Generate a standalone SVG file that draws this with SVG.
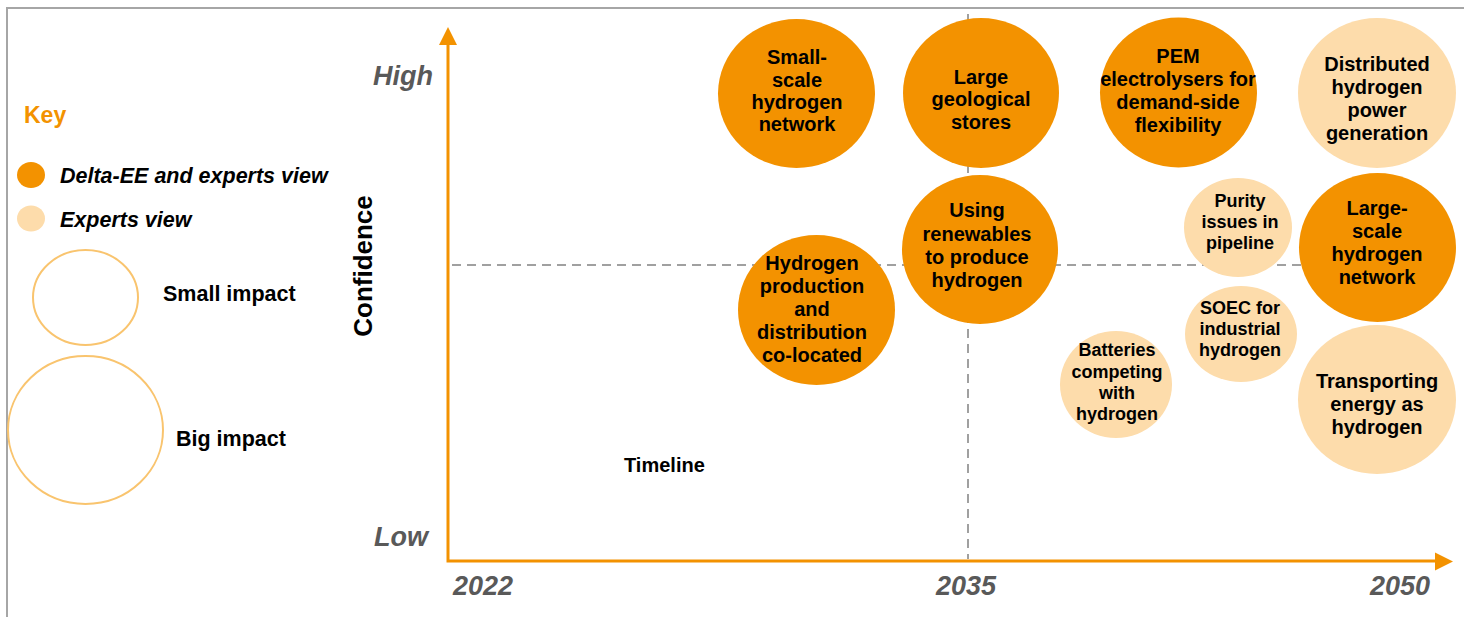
<svg xmlns="http://www.w3.org/2000/svg" width="1464" height="617" viewBox="0 0 1464 617">
  <defs>
    <style>
      .frame { fill: none; stroke: #a6a6a6; stroke-width: 2; }
      .axis { stroke: #f39200; stroke-width: 3; fill: none; }
      .arrowhead { fill: #f39200; }
      .grid { stroke: #a0a0a0; stroke-width: 2; stroke-dasharray: 9 6; fill: none; }
      .dark { fill: #f39200; }
      .light { fill: #fddcab; }
      .outline { fill: none; stroke: #f9c46e; stroke-width: 2; }
      .lbl { font-family: "Liberation Sans", Arial, sans-serif; font-weight: bold; fill: #000; text-anchor: middle; }
      .big { font-size: 20px; }
      .small { font-size: 18px; }
      .key { font-family: "Liberation Sans", Arial, sans-serif; font-weight: bold; font-size: 21.5px; fill: #000; }
      .ital { font-style: italic; }
      .tick { font-family: "Liberation Sans", Arial, sans-serif; font-weight: bold; font-style: italic; font-size: 27px; fill: #595959; }
    </style>
  </defs>

  <rect width="1464" height="617" fill="#ffffff"/>
  <path class="frame" d="M7,617 V8 H1464"/>

  <!-- legend -->
  <g id="legend">
    <text x="24" y="123" class="key" style="fill:#f39200;font-size:23px">Key</text>
    <ellipse class="dark" cx="31" cy="175" rx="14" ry="13"/>
    <text x="60" y="183" class="key ital">Delta-EE and experts view</text>
    <ellipse class="light" cx="31" cy="218.5" rx="14" ry="13"/>
    <text x="60" y="227" class="key ital">Experts view</text>
    <ellipse class="outline" cx="85.5" cy="297.5" rx="52.5" ry="47.5"/>
    <text x="163" y="301" class="key">Small impact</text>
    <ellipse class="outline" cx="85.5" cy="430" rx="77.5" ry="74"/>
    <text x="176" y="446" class="key">Big impact</text>
  </g>

  <!-- quadrant guides and axes -->
  <g id="connectors">
    <line class="grid" x1="452" y1="265" x2="1440" y2="265"/>
    <line class="grid" x1="968" y1="14" x2="968" y2="559"/>
    <path class="axis" d="M448,44 V561 H1437"/>
    <polygon class="arrowhead" points="448,27 439,45 457,45"/>
    <polygon class="arrowhead" points="1453,561.5 1435,552.5 1435,570.5"/>
  </g>

  <g id="axis-labels">
    <text x="373" y="85" class="tick">High</text>
    <text x="374" y="546" class="tick">Low</text>
    <text x="453" y="595" class="tick">2022</text>
    <text x="936" y="595" class="tick">2035</text>
    <text x="1370" y="595" class="tick">2050</text>
    <text transform="translate(372,266) rotate(-90)" class="lbl" style="font-size:26px">Confidence</text>
    <text x="624" y="472" class="key" style="font-size:20px">Timeline</text>
  </g>

  <!-- bubbles -->
  <g id="small-scale-network">
    <ellipse class="dark" cx="796.5" cy="93.5" rx="78.5" ry="74.5"/>
    <text class="lbl big"><tspan x="797" y="64">Small-</tspan><tspan x="797" y="87">scale</tspan><tspan x="797" y="109">hydrogen</tspan><tspan x="797" y="131">network</tspan></text>
  </g>
  <g id="geological-stores">
    <ellipse class="dark" cx="981" cy="93" rx="78" ry="75"/>
    <text class="lbl big"><tspan x="981" y="84">Large</tspan><tspan x="981" y="106">geological</tspan><tspan x="981" y="129">stores</tspan></text>
  </g>
  <g id="renewables">
    <ellipse class="dark" cx="980" cy="249.5" rx="78" ry="74.5"/>
    <text class="lbl big"><tspan x="977" y="217">Using</tspan><tspan x="977" y="241">renewables</tspan><tspan x="977" y="264">to produce</tspan><tspan x="977" y="287">hydrogen</tspan></text>
  </g>
  <g id="co-located">
    <ellipse class="dark" cx="816.5" cy="310" rx="78.5" ry="75"/>
    <text class="lbl big"><tspan x="812" y="270">Hydrogen</tspan><tspan x="812" y="293">production</tspan><tspan x="812" y="316">and</tspan><tspan x="812" y="339">distribution</tspan><tspan x="812" y="362">co-located</tspan></text>
  </g>
  <g id="pem-electrolysers">
    <ellipse class="dark" cx="1178.5" cy="92.5" rx="78.5" ry="75"/>
    <text class="lbl big"><tspan x="1178" y="63">PEM</tspan><tspan x="1178" y="86">electrolysers for</tspan><tspan x="1178" y="109">demand-side</tspan><tspan x="1178" y="132">flexibility</tspan></text>
  </g>
  <g id="distributed-power">
    <ellipse class="light" cx="1377" cy="93" rx="79" ry="75"/>
    <text class="lbl big"><tspan x="1377" y="71">Distributed</tspan><tspan x="1377" y="94">hydrogen</tspan><tspan x="1377" y="117">power</tspan><tspan x="1377" y="140">generation</tspan></text>
  </g>
  <g id="large-scale-network">
    <ellipse class="dark" cx="1377.5" cy="247.5" rx="78.5" ry="74.5"/>
    <text class="lbl big"><tspan x="1377" y="215">Large-</tspan><tspan x="1377" y="238">scale</tspan><tspan x="1377" y="261">hydrogen</tspan><tspan x="1377" y="284">network</tspan></text>
  </g>
  <g id="transporting-energy">
    <ellipse class="light" cx="1377" cy="399.5" rx="79" ry="74.5"/>
    <text class="lbl big"><tspan x="1377" y="388">Transporting</tspan><tspan x="1377" y="411">energy as</tspan><tspan x="1377" y="434">hydrogen</tspan></text>
  </g>
  <g id="purity-issues">
    <ellipse class="light" cx="1238" cy="227.5" rx="54" ry="49.5"/>
    <text class="lbl small"><tspan x="1240" y="207">Purity</tspan><tspan x="1240" y="228">issues in</tspan><tspan x="1240" y="249">pipeline</tspan></text>
  </g>
  <g id="soec">
    <ellipse class="light" cx="1241" cy="334" rx="56" ry="48"/>
    <text class="lbl small"><tspan x="1240" y="314">SOEC for</tspan><tspan x="1240" y="335">industrial</tspan><tspan x="1240" y="356">hydrogen</tspan></text>
  </g>
  <g id="batteries">
    <ellipse class="light" cx="1116" cy="384.5" rx="56" ry="53.5"/>
    <text class="lbl small"><tspan x="1117" y="356">Batteries</tspan><tspan x="1117" y="378">competing</tspan><tspan x="1117" y="399">with</tspan><tspan x="1117" y="420">hydrogen</tspan></text>
  </g>
</svg>
